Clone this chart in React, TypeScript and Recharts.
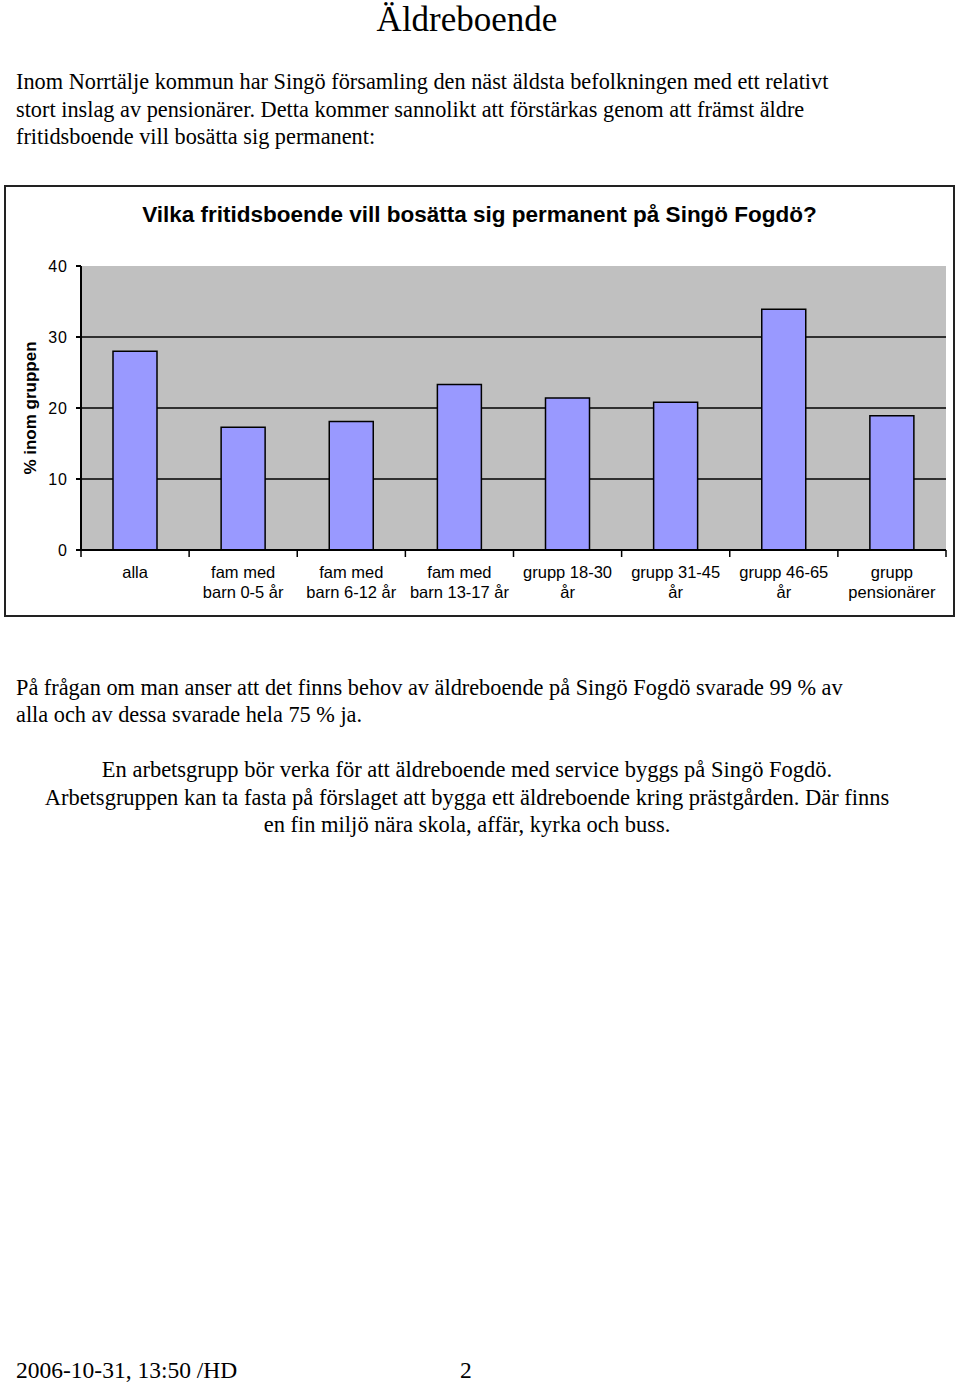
import { BarChart, Bar, XAxis, YAxis, CartesianGrid } from 'recharts';

const categories = [
  'alla',
  'fam med\nbarn 0-5 år',
  'fam med\nbarn 6-12 år',
  'fam med\nbarn 13-17 år',
  'grupp 18-30\når',
  'grupp 31-45\når',
  'grupp 46-65\når',
  'grupp\npensionärer',
];
const shares = [28, 17.3, 18.1, 23.3, 21.4, 20.8, 33.9, 18.9];
const yTicks = [0, 10, 20, 30, 40];

const data = categories.map((name, i) => ({ name, value: shares[i] }));

const serif = '"Liberation Serif", "Times New Roman", serif';
const sans = '"Liberation Sans", Arial, sans-serif';

function CategoryTick(props: any) {
  const { x, y, payload, index } = props;
  const half = payload.offset ?? 54;
  const lines = String(payload.value).split('\n');
  return (
    <g>
      <line x1={x - half} y1={y - 8} x2={x - half} y2={y - 1} stroke="#000" strokeWidth={1.5} />
      {index === categories.length - 1 && (
        <line x1={x + half} y1={y - 8} x2={x + half} y2={y - 1} stroke="#000" strokeWidth={1.5} />
      )}
      {lines.map((l, i) => (
        <text key={i} x={x} y={y + 20 + i * 20} textAnchor="middle" fontSize={16.5} fontFamily={sans} fill="#000">
          {l}
        </text>
      ))}
    </g>
  );
}

function Line({ top, left, center, size, children }: any) {
  return (
    <div
      style={{
        position: 'absolute',
        top: top - 15,
        left: center ? 0 : left,
        width: center ? 934 : undefined,
        textAlign: center ? 'center' : 'left',
        height: 30,
        lineHeight: '30px',
        fontSize: size,
        fontFamily: serif,
        whiteSpace: 'nowrap',
        color: '#000',
      }}
    >
      {children}
    </div>
  );
}

export default function App() {
  return (
    <div style={{ position: 'absolute', left: 0, top: 0, width: 960, height: 1385, background: '#fff' }}>
      <div
        style={{
          position: 'absolute', top: 0, left: 0, width: 934, textAlign: 'center',
          fontFamily: serif, fontSize: 35, lineHeight: '40px', height: 40,
        }}
      >
        Äldreboende
      </div>
      <Line top={82} left={16} size={22.3}>Inom Norrtälje kommun har Singö församling den näst äldsta befolkningen med ett relativt</Line>
      <Line top={110} left={16} size={22.3}>stort inslag av pensionärer. Detta kommer sannolikt att förstärkas genom att främst äldre</Line>
      <Line top={137} left={16} size={22.3}>fritidsboende vill bosätta sig permanent:</Line>

      <div
        style={{
          position: 'absolute', left: 4, top: 185, width: 947, height: 428,
          border: '2px solid #222', background: '#fff',
        }}
      >
        <div
          style={{
            position: 'absolute', top: 13, left: 0, width: 947, textAlign: 'center',
            fontFamily: sans, fontWeight: 'bold', fontSize: 22.5, lineHeight: '30px',
          }}
        >
          Vilka fritidsboende vill bosätta sig permanent på Singö Fogdö?
        </div>
        <BarChart
          width={947}
          height={428}
          data={data}
          margin={{ top: 79, right: 7, bottom: 0, left: 0 }}
          barSize={44}
        >
          <CartesianGrid
            vertical={false}
            fill="#c0c0c0"
            fillOpacity={1}
            stroke="#000"
            strokeOpacity={1}
            strokeWidth={1.6}
            horizontalValues={[10, 20, 30]}
          />
          <XAxis
            dataKey="name"
            interval={0}
            height={65}
            tickLine={false}
            axisLine={{ stroke: '#000', strokeWidth: 2 }}
            tick={<CategoryTick />}
          />
          <YAxis
            width={75}
            domain={[0, 40]}
            ticks={yTicks}
            tickSize={5}
            tickMargin={8}
            axisLine={{ stroke: '#000', strokeWidth: 2 }}
            tickLine={{ stroke: '#000', strokeWidth: 2 }}
            tick={{ fontSize: 16, fontFamily: sans, fill: '#000', letterSpacing: 1 }}
            label={{
              value: '% inom gruppen',
              angle: -90,
              position: 'insideLeft',
              offset: 24,
              style: { textAnchor: 'middle', fontFamily: sans, fontWeight: 'bold', fontSize: 17, fill: '#000' },
            }}
          />
          <Bar dataKey="value" fill="#9999ff" stroke="#000" strokeWidth={1.5} isAnimationActive={false} />
        </BarChart>
      </div>

      <Line top={688} left={16} size={22.3}>På frågan om man anser att det finns behov av äldreboende på Singö Fogdö svarade 99 % av</Line>
      <Line top={715} left={16} size={22.3}>alla och av dessa svarade hela 75 % ja.</Line>
      <Line top={770} center size={22.5}>En arbetsgrupp bör verka för att äldreboende med service byggs på Singö Fogdö.</Line>
      <Line top={798} center size={22.5}>Arbetsgruppen kan ta fasta på förslaget att bygga ett äldreboende kring prästgården. Där finns</Line>
      <Line top={825} center size={22.5}>en fin miljö nära skola, affär, kyrka och buss.</Line>

      <Line top={1370} left={16} size={23.5}>2006-10-31, 13:50 /HD</Line>
      <Line top={1370} left={460} size={23.5}>2</Line>
    </div>
  );
}
